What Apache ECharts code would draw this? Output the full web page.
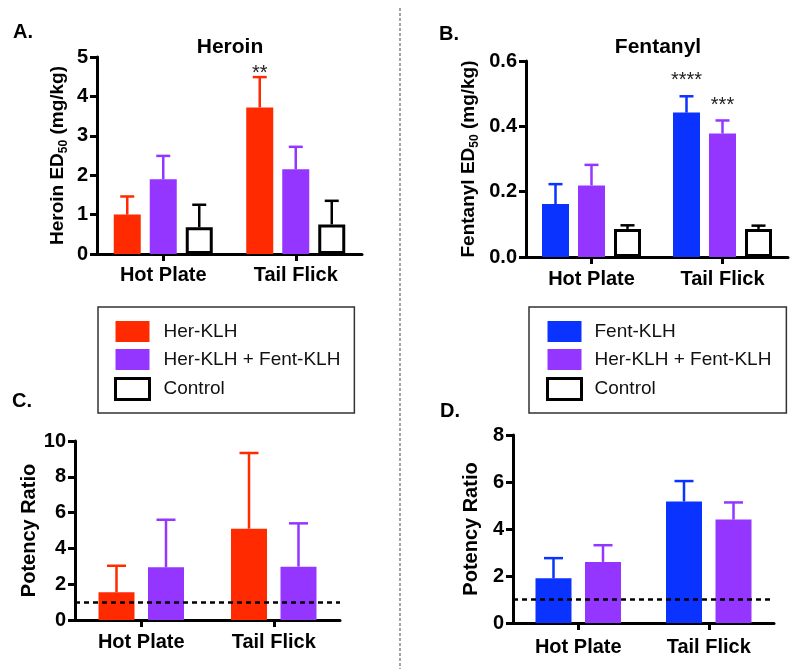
<!DOCTYPE html>
<html>
<head>
<meta charset="utf-8">
<script src="https://cdn.jsdelivr.net/npm/echarts@6/dist/echarts.min.js"></script>
<style>
html,body{margin:0;padding:0;background:#fff;}
#chart{width:800px;height:669px;}
</style>
</head>
<body>
<div id="chart"></div>
<script>
// ---------------- DATA ----------------
const categories = ['Hot Plate', 'Tail Flick'];

// Panel A: Heroin ED50 (mg/kg) - mean and upper error (SEM)
const heroinHerKLH      = [1.00, 3.72];
const heroinHerKLHErr   = [0.46, 0.77];
const heroinCombo       = [1.90, 2.15];
const heroinComboErr    = [0.59, 0.57];
const heroinControl     = [0.68, 0.75];
const heroinControlErr  = [0.57, 0.60];
const heroinSigHerKLH   = ['', '**'];

// Panel B: Fentanyl ED50 (mg/kg)
const fentFentKLH       = [0.162, 0.442];
const fentFentKLHErr    = [0.061, 0.050];
const fentCombo         = [0.219, 0.378];
const fentComboErr      = [0.063, 0.040];
const fentControl       = [0.086, 0.086];
const fentControlErr    = [0.011, 0.010];
const fentSigFentKLH    = ['', '****'];
const fentSigCombo      = ['', '***'];

// Panel C: Potency ratio (heroin)
const potHerHerKLH      = [1.55, 5.10];
const potHerHerKLHErr   = [1.48, 4.23];
const potHerCombo       = [2.94, 2.98];
const potHerComboErr    = [2.66, 2.42];

// Panel D: Potency ratio (fentanyl)
const potFentFentKLH    = [1.90, 5.17];
const potFentFentKLHErr = [0.86, 0.87];
const potFentCombo      = [2.60, 4.40];
const potFentComboErr   = [0.71, 0.73];

const referenceRatio = 1;

// Axis ticks
const axisA = {min: 0, max: 5, interval: 1};
const axisB = {min: 0, max: 0.6, interval: 0.2};
const axisC = {min: 0, max: 10, interval: 2};
const axisD = {min: 0, max: 8, interval: 2};

// ---------------- STYLE ----------------
const FONT = '"Liberation Sans", Arial, Helvetica, sans-serif';
const RED = '#ff2a00', PURPLE = '#9436ff', BLUE = '#0a33ff';

const chart = echarts.init(document.getElementById('chart'), null, {renderer: 'canvas'});

const grids = [
  {left: 97, top: 57, width: 265, height: 197},
  {left: 526, top: 61, width: 262, height: 196},
  {left: 75, top: 441, width: 265, height: 179},
  {left: 513, top: 435, width: 261, height: 188}
];
const labelMargins = [11, 12, 12, 14];

function xAxis(i) {
  return {
    type: 'category', gridIndex: i, data: categories,
    axisLine: {show: true, lineStyle: {color: '#000', width: 3}},
    axisTick: {show: true, alignWithLabel: true, length: 7, lineStyle: {color: '#000', width: 3}},
    axisLabel: {color: '#000', fontSize: 20, fontWeight: 'bold', fontFamily: FONT, margin: labelMargins[i]},
    splitLine: {show: false}
  };
}
function yAxis(i, ax, name, gap, decimals) {
  return {
    type: 'value', gridIndex: i, min: ax.min, max: ax.max, interval: ax.interval,
    name: name, nameLocation: 'middle', nameGap: gap,
    nameTextStyle: {
      color: '#000',
      rich: {
        a: {fontSize: 19, fontWeight: 'bold', fontFamily: FONT, color: '#000', lineHeight: 24, verticalAlign: 'middle'},
        s: {fontSize: 12, fontWeight: 'bold', fontFamily: FONT, color: '#000', lineHeight: 12, verticalAlign: 'bottom'},
        p: {fontSize: 20, fontWeight: 'bold', fontFamily: FONT, color: '#000', lineHeight: 24}
      }
    },
    axisLine: {show: true, lineStyle: {color: '#000', width: 3}},
    axisTick: {show: true, length: 7, lineStyle: {color: '#000', width: 3}},
    axisLabel: {color: '#000', fontSize: 20, fontWeight: 'bold', fontFamily: FONT, margin: 9,
      formatter: v => decimals ? v.toFixed(decimals) : String(v)},
    splitLine: {show: false}
  };
}

function bar(name, axis, values, color, w, gap, control) {
  return {
    type: 'bar', name: name, xAxisIndex: axis, yAxisIndex: axis, data: values,
    barWidth: w, barGap: gap, z: 2,
    itemStyle: control ? {color: '#fff', borderColor: '#000', borderWidth: 3} : {color: color},
    emphasis: {disabled: true}
  };
}

function errBars(axis, values, errs, offset, color, cap) {
  return {
    type: 'custom', xAxisIndex: axis, yAxisIndex: axis, z: 3, silent: true,
    data: values.map((v, i) => [i, v, v + errs[i]]),
    encode: {x: 0, y: [1, 2]},
    renderItem: function (params, api) {
      const c = api.value(0);
      const p0 = api.coord([c, api.value(1)]);
      const p1 = api.coord([c, api.value(2)]);
      const x = p0[0] + offset;
      const st = {stroke: color, lineWidth: 2.5};
      return {type: 'group', children: [
        {type: 'line', shape: {x1: x, y1: p0[1], x2: x, y2: p1[1]}, style: st},
        {type: 'line', shape: {x1: x - cap / 2, y1: p1[1], x2: x + cap / 2, y2: p1[1]}, style: st}
      ]};
    }
  };
}

function sigText(axis, values, errs, texts, offset, lift) {
  return {
    type: 'custom', xAxisIndex: axis, yAxisIndex: axis, z: 4, silent: true,
    data: values.map((v, i) => [i, v + errs[i]]),
    encode: {x: 0, y: 1},
    renderItem: function (params, api) {
      const t = texts[params.dataIndex];
      if (!t) return null;
      const p = api.coord([api.value(0), api.value(1)]);
      return {type: 'text', x: p[0] + offset, y: p[1] - lift,
        style: {text: t, fill: '#222', fontSize: 20, fontFamily: FONT,
          align: 'center', textAlign: 'center', verticalAlign: 'middle', textVerticalAlign: 'middle'}};
    }
  };
}

function refLine(axis) {
  return {
    type: 'line', xAxisIndex: axis, yAxisIndex: axis, data: [], silent: true,
    markLine: {
      silent: true, symbol: ['none', 'none'], label: {show: false},
      lineStyle: {color: '#000', width: 2.5, type: [5, 4]},
      data: [{yAxis: referenceRatio}]
    }
  };
}

// bar geometry (pixels)
const wAB = 27, gAB = 9;     // panel A & B
const wCD = 36, gCD = 13.5;  // panel C & D
const pAB = wAB + gAB, pCD = wCD + gCD;
const gapAB = (gAB / wAB * 100) + '%';
const gapCD = (gCD / wCD * 100) + '%';

const series = [
  // Panel A
  bar('Her-KLH', 0, heroinHerKLH, RED, wAB, gapAB),
  bar('Her-KLH + Fent-KLH', 0, heroinCombo, PURPLE, wAB, gapAB),
  bar('Control', 0, heroinControl, '#fff', wAB, gapAB, true),
  errBars(0, heroinHerKLH, heroinHerKLHErr, -pAB, RED, 14),
  errBars(0, heroinCombo, heroinComboErr, 0, PURPLE, 14),
  errBars(0, heroinControl, heroinControlErr, pAB, '#000', 14),
  sigText(0, heroinHerKLH, heroinHerKLHErr, heroinSigHerKLH, -pAB, 4),
  // Panel B
  bar('Fent-KLH', 1, fentFentKLH, BLUE, wAB, gapAB),
  bar('Her-KLH + Fent-KLH', 1, fentCombo, PURPLE, wAB, gapAB),
  bar('Control', 1, fentControl, '#fff', wAB, gapAB, true),
  errBars(1, fentFentKLH, fentFentKLHErr, -pAB, BLUE, 14),
  errBars(1, fentCombo, fentComboErr, 0, PURPLE, 14),
  errBars(1, fentControl, fentControlErr, pAB, '#000', 14),
  sigText(1, fentFentKLH, fentFentKLHErr, fentSigFentKLH, -pAB, 16),
  sigText(1, fentCombo, fentComboErr, fentSigCombo, 0, 15),
  // Panel C
  bar('Her-KLH', 2, potHerHerKLH, RED, wCD, gapCD),
  bar('Her-KLH + Fent-KLH', 2, potHerCombo, PURPLE, wCD, gapCD),
  errBars(2, potHerHerKLH, potHerHerKLHErr, -pCD / 2, RED, 19),
  errBars(2, potHerCombo, potHerComboErr, pCD / 2, PURPLE, 19),
  refLine(2),
  // Panel D
  bar('Fent-KLH', 3, potFentFentKLH, BLUE, wCD, gapCD),
  bar('Her-KLH + Fent-KLH', 3, potFentCombo, PURPLE, wCD, gapCD),
  errBars(3, potFentFentKLH, potFentFentKLHErr, -pCD / 2, BLUE, 19),
  errBars(3, potFentCombo, potFentComboErr, pCD / 2, PURPLE, 19),
  refLine(3)
];

function legend(left, pad, gapTxt, names) {
  return {
    left: left, top: 307, orient: 'vertical', padding: pad, itemGap: 7,
    itemWidth: 34, itemHeight: 21, borderColor: '#333', borderWidth: 1.5,
    icon: 'rect', selectedMode: false,
    textStyle: {fontSize: 19, fontFamily: FONT, color: '#111', padding: [0, 0, 0, gapTxt]},
    data: names.map(n => n === 'Control'
      ? {name: n, itemStyle: {color: '#fff', borderColor: '#000', borderWidth: 3}}
      : {name: n})
  };
}

function txt(x, y, text, size, align) {
  return {type: 'text', x: x, y: y, silent: true,
    style: {text: text, fill: '#000', font: 'bold ' + size + 'px ' + FONT,
      align: align || 'left', verticalAlign: 'middle'}};
}

const option = {
  backgroundColor: '#fff',
  animation: false,
  grid: grids,
  xAxis: [xAxis(0), xAxis(1), xAxis(2), xAxis(3)],
  yAxis: [
    yAxis(0, axisA, '{a|Heroin ED}{s|50}{a| (mg/kg)}', 27, 0),
    yAxis(1, axisB, '{a|Fentanyl ED}{s|50}{a| (mg/kg)}', 45, 1),
    yAxis(2, axisC, '{p|Potency Ratio}', 29, 0),
    yAxis(3, axisD, '{p|Potency Ratio}', 30, 0)
  ],
  legend: [
    legend(98, [14, 14, 12, 16], 9, ['Her-KLH', 'Her-KLH + Fent-KLH', 'Control']),
    legend(529, [14, 15, 12, 17], 8, ['Fent-KLH', 'Her-KLH + Fent-KLH', 'Control'])
  ],
  graphic: [
    {type: 'line', silent: true, shape: {x1: 400, y1: 8, x2: 400, y2: 669},
      style: {stroke: '#666', lineWidth: 1.2, lineDash: [3, 2]}},
    txt(13, 32, 'A.', 20),
    txt(439, 34, 'B.', 20),
    txt(12, 401, 'C.', 20),
    txt(440, 411, 'D.', 20),
    txt(230, 47, 'Heroin', 21, 'center'),
    txt(658, 47, 'Fentanyl', 21, 'center')
  ],
  series: series
};
chart.setOption(option);
</script>
</body>
</html>
